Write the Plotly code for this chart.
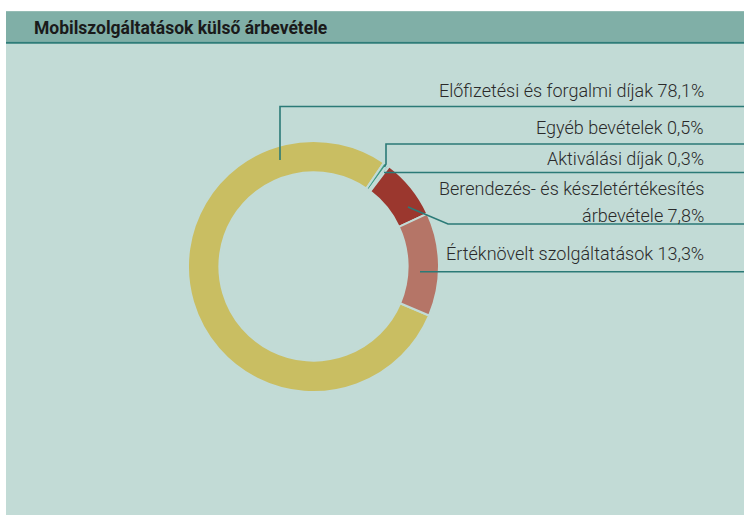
import plotly.graph_objects as go

# ---- data ----
categories = [
    "Előfizetési és forgalmi díjak",
    "Egyéb bevételek",
    "Aktiválási díjak",
    "Berendezés- és készletértékesítés\nárbevétele",
    "Értéknövelt szolgáltatások",
]
values = [78.1, 0.5, 0.3, 7.8, 13.3]
colors = ["#c9be62", "#3f9a86", "#5aa8c4", "#9b372e", "#b57567"]
title_text = "Mobilszolgáltatások külső árbevétele"

W, H = 744, 515
BG = "#c2dbd6"
HEADER = "#80afa7"
DARK = "#2e7c78"
LINE = "#2b7a77"
FONT = "Roboto, sans-serif"

# donut geometry (pixels)
cx, cy, R = 313.5, 266.5, 125.5

fig = go.Figure()
fig.add_trace(go.Pie(
    values=values,
    labels=[c.replace("\n", " ") for c in categories],
    marker=dict(colors=colors, line=dict(color=BG, width=2)),
    hole=0.75,
    sort=False,
    direction="clockwise",
    rotation=113,
    textinfo="none",
    hoverinfo="label+percent",
    showlegend=False,
    domain=dict(x=[(cx - R) / W, (cx + R) / W], y=[(H - cy - R) / H, (H - cy + R) / H]),
))

shapes = [
    dict(type="rect", x0=6, x1=W, y0=11.3, y1=515, fillcolor=BG, line=dict(width=0), layer="below"),
    dict(type="rect", x0=6, x1=W, y0=11.3, y1=41.7, fillcolor=HEADER, line=dict(width=0), layer="below"),
    dict(type="rect", x0=6, x1=W, y0=41.7, y1=43.7, fillcolor=DARK, line=dict(width=0), layer="below"),
]

leaders = [
    [(280, 160), (280, 106.5), (W, 106.5)],
    [(384.5, 167), (386, 164), (386, 144), (W, 144)],
    [(384, 172.5), (W, 172.5)],
    [(408, 207), (448, 224), (W, 224)],
    [(420, 271.7), (W, 271.7)],
]
for pts in leaders:
    path = "M " + " L ".join(f"{x},{y}" for x, y in pts)
    shapes.append(dict(type="path", path=path, line=dict(color=LINE, width=1.6), layer="above"))

label_y = [[90], [127], [158.3], [188.3, 215], [253.5]]
annotations = []
for cat, v, ys in zip(categories, values, label_y):
    lines = cat.split("\n")
    lines[-1] = lines[-1] + f" {v:.1f}".replace(".", ",") + "%"
    for ln, y in zip(lines, ys):
        annotations.append(dict(
            x=706, y=y, xref="x", yref="y", text=ln, showarrow=False,
            xanchor="right", yanchor="middle",
            font=dict(family=FONT, size=18, color="#2a2a2a", weight=300),
        ))

annotations.append(dict(
    x=32, y=27.5, xref="x", yref="y", text=title_text, showarrow=False,
    xanchor="left", yanchor="middle",
    font=dict(family=FONT, size=17.5, color="#1a1a1a", weight=700),
))

fig.update_layout(
    width=W, height=H,
    margin=dict(l=0, r=0, t=0, b=0),
    paper_bgcolor="white",
    plot_bgcolor="rgba(0,0,0,0)",
    xaxis=dict(range=[0, W], visible=False, fixedrange=True),
    yaxis=dict(range=[H, 0], visible=False, fixedrange=True),
    shapes=shapes,
    annotations=annotations,
    showlegend=False,
)

fig.write_html("out.html", config={"displayModeBar": False},
               post_script="document.body.style.margin='0';")
